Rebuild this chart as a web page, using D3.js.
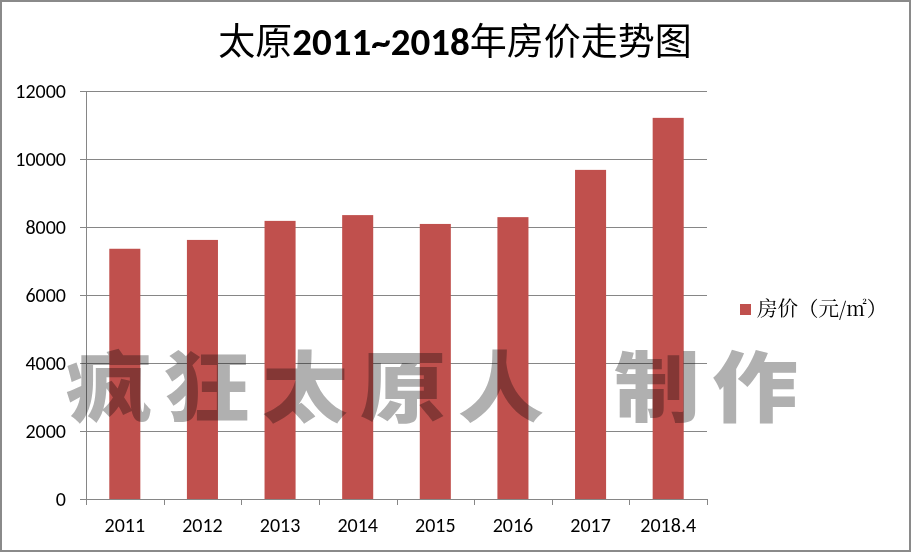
<!DOCTYPE html>
<html><head><meta charset="utf-8">
<script src="https://cdn.jsdelivr.net/npm/d3@7"></script>
<style>
html,body{margin:0;padding:0;background:#fff;}
svg{display:block;}
</style></head>
<body>
<svg id="chart" width="911" height="552"></svg>
<script>
const categories = ["2011","2012","2013","2014","2015","2016","2017","2018.4"];
const prices = [7360, 7620, 8180, 8350, 8090, 8290, 9680, 11210];
const yTicks = [0, 2000, 4000, 6000, 8000, 10000, 12000];
const titleParts = ["太原", "2011~2018", "年房价走势图"];
const legendLabel = "房价（元/㎡）";
const watermarkParts = ["疯狂太原人", "制作"];

const W = 911, H = 552;
const m = {left: 86, right: 204, top: 91, bottom: 53};
const iw = W - m.left - m.right, ih = H - m.top - m.bottom;
const latin = "'Carlito',Lato,'Liberation Sans',Arial,sans-serif";
const cjk = "'Noto Sans CJK SC','Noto Sans',sans-serif";

const svg = d3.select("#chart");
svg.append("rect").attr("x",1).attr("y",1).attr("width",W-2).attr("height",H-2)
  .attr("fill","#fff").attr("stroke","#8a8a8a").attr("stroke-width",2);

const title = svg.append("text").attr("x", 455).attr("y", 55).attr("text-anchor","middle")
  .attr("font-family", cjk).attr("font-size", 37).attr("font-weight", 400).attr("fill","#000");
title.append("tspan").text(titleParts[0]);
title.append("tspan").attr("font-family", latin).attr("font-weight", 700).attr("font-size", 39).text(titleParts[1]);
title.append("tspan").text(titleParts[2]);

const x = d3.scaleBand().domain(categories).range([0, iw]).paddingInner(0.6).paddingOuter(0.3);
const y = d3.scaleLinear().domain([0, 12000]).range([ih, 0]);
const g = svg.append("g").attr("transform", `translate(${m.left},${m.top})`);

// gridlines
g.append("g").selectAll("line").data(yTicks.filter(d=>d>0)).join("line")
  .attr("x1",0).attr("x2",iw).attr("y1",d=>Math.round(y(d))+0.5).attr("y2",d=>Math.round(y(d))+0.5)
  .attr("stroke","#868686").attr("stroke-width",1);

// bars
g.append("g").selectAll("rect").data(prices).join("rect")
  .attr("x",(d,i)=>x(categories[i])).attr("width",x.bandwidth())
  .attr("y",d=>y(d)).attr("height",d=>ih-y(d)).attr("fill","#c0504d");

// y axis
const yAxis = g.append("g").call(d3.axisLeft(y).tickValues(yTicks).tickSize(6).tickPadding(14).tickFormat(d3.format("d")));
yAxis.select(".domain").attr("stroke","#868686");
yAxis.selectAll(".tick line").attr("stroke","#868686");
yAxis.selectAll("text").attr("font-family", latin).attr("font-size", 20).attr("fill","#000");

// x axis with boundary ticks
const xAxisG = g.append("g").attr("transform",`translate(0,${ih})`);
const xa = xAxisG.call(d3.axisBottom(x).tickSize(0).tickPadding(19));
xa.select(".domain").attr("stroke","#868686").attr("d", `M0.5,0.5H${iw}`);
xa.selectAll("text").attr("font-family", latin).attr("font-size", 20).attr("fill","#000");
xAxisG.selectAll("line.bt").data(d3.range(categories.length+1)).join("line").attr("class","bt")
  .attr("x1",i=>Math.round(i*iw/categories.length)+0.5).attr("x2",i=>Math.round(i*iw/categories.length)+0.5)
  .attr("y1",0).attr("y2",6).attr("stroke","#868686");

// legend
const lg = svg.append("g").attr("transform","translate(740,304)");
lg.append("rect").attr("width",11).attr("height",11).attr("fill","#c0504d");
lg.append("text").attr("x",17).attr("y",12).attr("font-family", "'Noto Serif CJK SC','Noto Sans CJK SC',serif")
  .attr("font-size",20.5).attr("fill","#000").text(legendLabel);

// watermark
const wm = svg.append("text").attr("transform","translate(66,416) scale(1,0.9)")
  .attr("font-family", cjk).attr("font-size", 86).attr("font-weight", 900)
  .attr("letter-spacing", 12).attr("fill", "#b0b0b0").style("mix-blend-mode","multiply");
wm.append("tspan").text(watermarkParts[0]);
wm.append("tspan").attr("dx", 58).text(watermarkParts[1]);
</script>
</body></html>
